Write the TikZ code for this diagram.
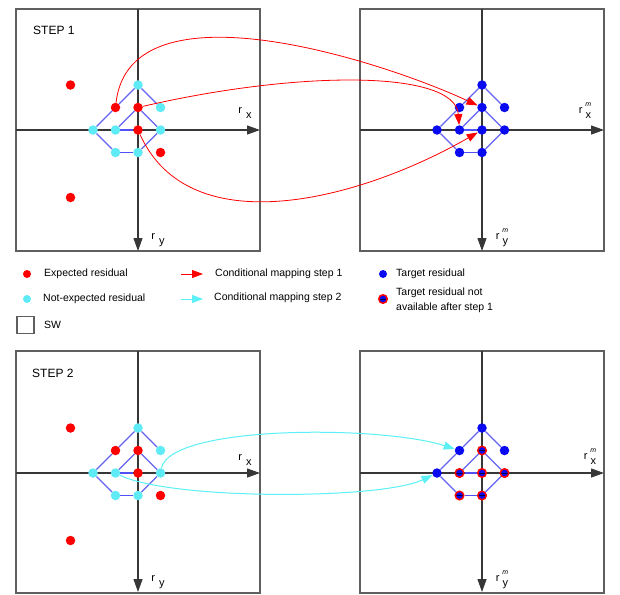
\documentclass[tikz,border=0pt]{standalone}
\usepackage{fontspec}
\setmainfont{Liberation Sans}
\usetikzlibrary{arrows.meta}
\definecolor{dotred}{RGB}{255,0,0}
\definecolor{dotcyan}{RGB}{95,235,245}
\definecolor{dotblue}{RGB}{10,10,240}
\definecolor{latblue}{RGB}{100,100,240}
\definecolor{mapcyan}{RGB}{90,240,245}
\definecolor{framegray}{RGB}{95,95,95}
\definecolor{axisgray}{RGB}{55,55,55}

\begin{document}
\begin{tikzpicture}[x=1pt,y=-1pt]
	\tikzstyle{expdot} = [circle, minimum size=9.5pt, inner sep=0pt, fill=dotred]
	\tikzstyle{notdot} = [circle, minimum size=9.5pt, inner sep=0pt, fill=dotcyan]
	\tikzstyle{tardot} = [circle, minimum size=9.5pt, inner sep=0pt, fill=dotblue]
	\tikzstyle{lostdot} = [circle, minimum size=8.5pt, inner sep=0pt, fill=dotblue, draw=dotred, line width=1.5pt,
		path picture={\draw[black!70!blue, line width=1pt] (path picture bounding box.west) -- (path picture bounding box.east);}]
	\tikzstyle{swbox} = [draw=framegray, line width=1.1pt]
	\tikzstyle{axisline} = [draw=axisgray, line width=1.2pt, -{Triangle[length=13pt,width=9pt]}]
	\tikzstyle{latline} = [draw=latblue, line width=1.1pt]
	\tikzstyle{latbar} = [draw=latblue!80!blue, line width=1.8pt]
	\tikzstyle{mapone} = [draw=red, line width=0.8pt, -{Triangle[length=11pt,width=8pt]}]
	\tikzstyle{maptwo} = [draw=mapcyan, line width=1pt, -{Triangle[length=11pt,width=8pt]}]
	\tikzstyle{axlab} = [font=\fontsize{11}{12}\selectfont, inner sep=0pt]
	\tikzstyle{steptext} = [font=\fontsize{12}{14}\selectfont, inner sep=0pt, anchor=west]
	\tikzstyle{legtext} = [font=\fontsize{10.5}{15}\selectfont, inner sep=0pt, anchor=west, align=left]
	
	\useasboundingbox (0,0) rectangle (620,594);
	
	%SW frames and axes
	\draw[swbox] (16,9) rectangle (260,251);
	\draw[swbox] (360,9) rectangle (604,251);
	\draw[swbox] (16,351) rectangle (260,593);
	\draw[swbox] (360,351) rectangle (604,593);
	\draw[axisline] (16,130) -- (260,130);
	\draw[axisline] (138,9) -- (138,251);
	\draw[axisline] (360,130) -- (604,130);
	\draw[axisline] (482,9) -- (482,251);
	\draw[axisline] (16,473) -- (260,473);
	\draw[axisline] (138,351) -- (138,592);
	\draw[axisline] (360,473) -- (604,473);
	\draw[axisline] (482,351) -- (482,592);
	
	\node[steptext] (step1) at (33,30) {STEP 1};
	\node[steptext] (step2) at (32,373) {STEP 2};
	
	\node[axlab] (s1lx) at (245,113) {r\hspace{4pt}\raisebox{-5pt}{x}};
	\node[axlab] (s1ly) at (158,240) {r\hspace{4pt}\raisebox{-5pt}{y}};
	\node[axlab] (s1mx) at (585,111) {r\hspace{3pt}\raisebox{-5pt}{x}\llap{\raisebox{7pt}{\fontsize{7}{8}\selectfont\itshape m}}};
	\node[axlab] (s1my) at (502,238) {r\hspace{3pt}\raisebox{-5pt}{y}\llap{\raisebox{7pt}{\fontsize{7}{8}\selectfont\itshape m}}};
	\node[axlab] (s2lx) at (245,460) {r\hspace{4pt}\raisebox{-5pt}{x}};
	\node[axlab] (s2ly) at (158,582) {r\hspace{4pt}\raisebox{-5pt}{y}};
	\node[axlab] (s2mx) at (590,457) {r\hspace{3pt}\raisebox{-5pt}{x}\llap{\raisebox{7pt}{\fontsize{7}{8}\selectfont\itshape m}}};
	\node[axlab] (s2my) at (502,580) {r\hspace{3pt}\raisebox{-5pt}{y}\llap{\raisebox{7pt}{\fontsize{7}{8}\selectfont\itshape m}}};
	
	%step 1, residuals
	\begin{scope}[shift={(138,130)}, x=22.5pt, y=22.5pt]
	\node[notdot] (s1l-t) at (0,2) {};
	\node[expdot] (s1l-ul) at (-1,1) {}; \node[expdot] (s1l-u) at (0,1) {}; \node[notdot] (s1l-ur) at (1,1) {};
	\node[notdot] (s1l-ll) at (-2,0) {}; \node[notdot] (s1l-l) at (-1,0) {};
	\node[expdot] (s1l-c) at (0,0) {}; \node[notdot] (s1l-r) at (1,0) {};
	\node[notdot] (s1l-dl) at (-1,-1) {}; \node[notdot] (s1l-d) at (0,-1) {}; \node[expdot] (s1l-dr) at (1,-1) {};
	\node[expdot] (s1l-nw) at (-3,2) {};
	\node[expdot] (s1l-sw) at (-3,-3) {};
	\end{scope}
	
	%step 1, targets
	\begin{scope}[shift={(482,130)}, x=22.5pt, y=22.5pt]
	\node[tardot] (s1m-t) at (0,2) {};
	\node[tardot] (s1m-ul) at (-1,1) {}; \node[tardot] (s1m-u) at (0,1) {}; \node[tardot] (s1m-ur) at (1,1) {};
	\node[tardot] (s1m-ll) at (-2,0) {}; \node[tardot] (s1m-l) at (-1,0) {};
	\node[tardot] (s1m-c) at (0,0) {}; \node[tardot] (s1m-r) at (1,0) {};
	\node[tardot] (s1m-dl) at (-1,-1) {}; \node[tardot] (s1m-d) at (0,-1) {};
	\end{scope}
	
	%step 2, residuals
	\begin{scope}[shift={(138,473)}, x=22.5pt, y=22.5pt]
	\node[notdot] (s2l-t) at (0,2) {};
	\node[expdot] (s2l-ul) at (-1,1) {}; \node[expdot] (s2l-u) at (0,1) {}; \node[notdot] (s2l-ur) at (1,1) {};
	\node[notdot] (s2l-ll) at (-2,0) {}; \node[notdot] (s2l-l) at (-1,0) {};
	\node[expdot] (s2l-c) at (0,0) {}; \node[notdot] (s2l-r) at (1,0) {};
	\node[notdot] (s2l-dl) at (-1,-1) {}; \node[notdot] (s2l-d) at (0,-1) {}; \node[expdot] (s2l-dr) at (1,-1) {};
	\node[expdot] (s2l-nw) at (-3,2) {};
	\node[expdot] (s2l-sw) at (-3,-3) {};
	\end{scope}
	
	%step 2, targets
	\begin{scope}[shift={(482,473)}, x=22.5pt, y=22.5pt]
	\node[tardot] (s2m-t) at (0,2) {};
	\node[tardot] (s2m-ul) at (-1,1) {}; \node[lostdot] (s2m-u) at (0,1) {}; \node[tardot] (s2m-ur) at (1,1) {};
	\node[tardot] (s2m-ll) at (-2,0) {}; \node[lostdot] (s2m-l) at (-1,0) {};
	\node[lostdot] (s2m-c) at (0,0) {}; \node[lostdot] (s2m-r) at (1,0) {};
	\node[lostdot] (s2m-dl) at (-1,-1) {}; \node[lostdot] (s2m-d) at (0,-1) {};
	\end{scope}
	
	%lattice links
	\draw[latline] (s1l-ur) -- (s1l-t) -- (s1l-ul) -- (s1l-ll) -- (s1l-dl) (s1l-d) -- (s1l-r) -- (s1l-u) -- (s1l-l);
	\draw[latbar] (s1l-dl) -- (s1l-d); \draw[latbar] (s1l-l) -- (s1l-c);
	\draw[latline] (s1m-ur) -- (s1m-t) -- (s1m-ul) -- (s1m-ll) -- (s1m-dl) (s1m-d) -- (s1m-r) -- (s1m-u) -- (s1m-l);
	\draw[latbar] (s1m-dl) -- (s1m-d); \draw[latbar] (s1m-l) -- (s1m-c);
	\draw[latline] (s2l-ur) -- (s2l-t) -- (s2l-ul) -- (s2l-ll) -- (s2l-dl) (s2l-d) -- (s2l-r) -- (s2l-u) -- (s2l-l);
	\draw[latbar] (s2l-dl) -- (s2l-d); \draw[latbar] (s2l-l) -- (s2l-c);
	\draw[latline] (s2m-ur) -- (s2m-t) -- (s2m-ul) -- (s2m-ll) -- (s2m-dl) (s2m-d) -- (s2m-r) -- (s2m-u) -- (s2m-l);
	\draw[latbar] (s2m-dl) -- (s2m-d); \draw[latbar] (s2m-l) -- (s2m-c);
	
	%conditional mapping
	\draw[mapone] (s1l-ul) .. controls (130,-20) and (380,60) .. (s1m-u);
	\draw[mapone] (s1l-u) .. controls (300,70) and (455,70) .. (s1m-l);
	\draw[mapone] (s1l-c) .. controls (190,245) and (360,200) .. (s1m-c);
	\draw[maptwo] (s2l-r) .. controls (170,425) and (380,425) .. (s2m-ul);
	\draw[maptwo] (s2l-l) .. controls (170,500) and (380,500) .. (s2m-ll);
	
	%legend
	\node[expdot, minimum size=8pt] (legexp) at (27,274) {};
	\node[legtext] (legexptext) at (44,274) {Expected residual};
	\node[notdot, minimum size=8pt] (legnot) at (27,299) {};
	\node[legtext] (legnottext) at (43,299) {Not-expected residual};
	\node[swbox, minimum size=17pt, inner sep=0pt] (legsw) at (25.5,325) {};
	\node[legtext] (legswtext) at (44,325) {SW};
	\coordinate (legonea) at (181,274); \coordinate (legoneb) at (203,274);
	\draw[mapone] (legonea) -- (legoneb);
	\node[legtext] (legonetext) at (215,274) {Conditional mapping step 1};
	\coordinate (legtwoa) at (181,299); \coordinate (legtwob) at (203,299);
	\draw[maptwo] (legtwoa) -- (legtwob);
	\node[legtext] (legtwotext) at (214,298) {Conditional mapping step 2};
	\node[tardot, minimum size=8pt] (legtar) at (383,274) {};
	\node[legtext] (legtartext) at (396,274) {Target residual};
	\node[lostdot] (leglost) at (383,299) {};
	\node[legtext] (leglosttext) at (396,300) {Target residual not\\available after step 1};
	
\end{tikzpicture}
\end{document}
